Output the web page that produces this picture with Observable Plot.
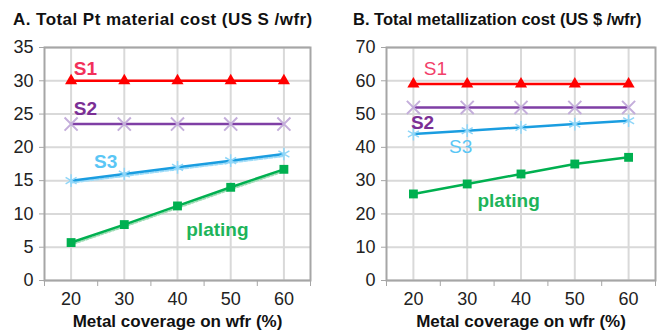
<!DOCTYPE html>
<html><head><meta charset="utf-8">
<script src="https://cdn.jsdelivr.net/npm/d3@7"></script>
<script src="https://cdn.jsdelivr.net/npm/@observablehq/plot@0.6"></script>
<style>
body{margin:0;background:#fff;font-family:"Liberation Sans",Arial,sans-serif;}
#wrap{display:flex;width:666px;height:335px;overflow:hidden;}
.panel{position:relative;width:333px;height:335px;overflow:visible;}
.title{position:absolute;top:10px;font-weight:bold;font-size:17px;white-space:nowrap;color:#111;letter-spacing:0.45px;}
.panel svg{position:absolute;top:35px;left:0;overflow:visible;}
</style></head><body>
<div id="wrap">
  <div class="panel" id="pa"><div class="title" style="left:13px">A. Total Pt material cost (US S /wfr)</div></div>
  <div class="panel" id="pb"><div class="title" style="left:20px;letter-spacing:0px;font-size:16.5px">B. Total metallization cost (US $ /wfr)</div></div>
</div>
<script>
const coverage = [20, 30, 40, 50, 60];
const minorTicks = [15, 25, 35, 45, 55, 65];
const xLabel = "Metal coverage on wfr (%)";

// Panel A: Total Pt material cost
const A_S1 = [30, 30, 30, 30, 30];
const A_S2 = [23.5, 23.5, 23.5, 23.5, 23.5];
const A_S3 = [15, 16, 17, 18, 19];
const A_plating = [5.7, 8.4, 11.2, 14, 16.7];
const A_yTicks = [0, 5, 10, 15, 20, 25, 30, 35];
const A_labels = [
  {text: "S1", x: 22.7, y: 31.8, color: "#f2305a", bold: true},
  {text: "S2", x: 22.7, y: 25.8, color: "#7b2f95", bold: true},
  {text: "S3", x: 26.5, y: 17.8, color: "#5ac6f5", bold: true},
  {text: "plating", x: 47.5, y: 7.6, color: "#1db45a", bold: true}
];

// Panel B: Total metallization cost
const B_S1 = [59, 59, 59, 59, 59];
const B_S2 = [52, 52, 52, 52, 52];
const B_S3 = [44, 45, 46, 47, 48];
const B_plating = [26, 29, 32, 35, 37];
const B_yTicks = [0, 10, 20, 30, 40, 50, 60, 70];
const B_labels = [
  {text: "S1", x: 24.1, y: 63.7, color: "#f2406a", bold: false},
  {text: "S2", x: 21.7, y: 47.4, color: "#7b2f95", bold: true},
  {text: "S3", x: 28.8, y: 40.0, color: "#5ac6f5", bold: false},
  {text: "plating", x: 37.7, y: 24.0, color: "#1db45a", bold: true}
];

function rows(vals) { return coverage.map((x, i) => ({x, y: vals[i]})); }

function panel({s1, s2, s3, plating, yTicks, labels, marginLeft, marginRight, trend}) {
  const ymax = yTicks[yTicks.length - 1];
  const marks = [
    Plot.ruleY(yTicks, {stroke: "#d9d9d9", strokeWidth: 2}),
    Plot.ruleX(coverage, {stroke: "#d9d9d9", strokeWidth: 2}),
    Plot.frame({stroke: "#a6a6a6", strokeWidth: 2}),
    Plot.axisY({ticks: yTicks, tickSize: 5, tickPadding: 6, stroke: "#a6a6a6", fill: "#222", fontSize: 18, label: null}),
    Plot.axisX({ticks: coverage, tickSize: 0, tickPadding: 12, fill: "#222", fontSize: 18, label: null}),
    Plot.axisX({ticks: minorTicks, tickSize: 6, tickFormat: () => "", stroke: "#a6a6a6", label: null}),
    Plot.text([xLabel], {frameAnchor: "bottom", dy: 46.5, fontWeight: "bold", fontSize: 17, fill: "#111", style: "letter-spacing:0.5px"})
  ];
  if (trend) {
    marks.push(Plot.line(rows(s3), {x: "x", y: "y", stroke: "#9fdcf8", strokeWidth: 2, strokeDasharray: "3,2", dy: 2}));
    marks.push(Plot.line(rows(plating), {x: "x", y: "y", stroke: "#9ddcb4", strokeWidth: 2, strokeDasharray: "2,2", dy: 2}));
  }
  marks.push(
    Plot.line(rows(s1), {x: "x", y: "y", stroke: "#ff0000", strokeWidth: 2.5}),
    Plot.dot(rows(s1), {x: "x", y: "y", symbol: "triangle", fill: "#ff0000", r: 4.5}),
    Plot.line(rows(s2), {x: "x", y: "y", stroke: "#7f3fa5", strokeWidth: 2.5}),
    Plot.dot(rows(s2), {x: "x", y: "y", symbol: "times", stroke: "#c4aedb", strokeWidth: 2, r: 6}),
    Plot.line(rows(s3), {x: "x", y: "y", stroke: "#1a9de0", strokeWidth: 2.5}),
    Plot.dot(rows(s3), {x: "x", y: "y", symbol: "asterisk", stroke: "#8fd6f8", strokeWidth: 1.5, r: 6}),
    Plot.line(rows(plating), {x: "x", y: "y", stroke: "#00b050", strokeWidth: 2.5}),
    Plot.dot(rows(plating), {x: "x", y: "y", symbol: "square", fill: "#00b050", r: 5}),
    Plot.text(labels.filter(d => d.bold), {x: "x", y: "y", text: "text", fill: "color", fontWeight: "bold", fontSize: 19}),
    Plot.text(labels.filter(d => !d.bold), {x: "x", y: "y", text: "text", fill: "color", fontSize: 19})
  );
  const svg = Plot.plot({
    width: 333, height: 300,
    marginTop: 12, marginBottom: 55, marginLeft, marginRight,
    x: {domain: [15, 65], axis: null},
    y: {domain: [0, ymax], axis: null},
    style: {fontFamily: "'Liberation Sans', Arial, sans-serif", background: "transparent"},
    marks
  });
  return svg;
}

document.getElementById("pa").appendChild(panel({s1: A_S1, s2: A_S2, s3: A_S3, plating: A_plating, yTicks: A_yTicks, labels: A_labels, marginLeft: 44, marginRight: 23, trend: true}));
document.getElementById("pb").appendChild(panel({s1: B_S1, s2: B_S2, s3: B_S3, plating: B_plating, yTicks: B_yTicks, labels: B_labels, marginLeft: 53, marginRight: 11, trend: false}));
</script>
</body></html>
